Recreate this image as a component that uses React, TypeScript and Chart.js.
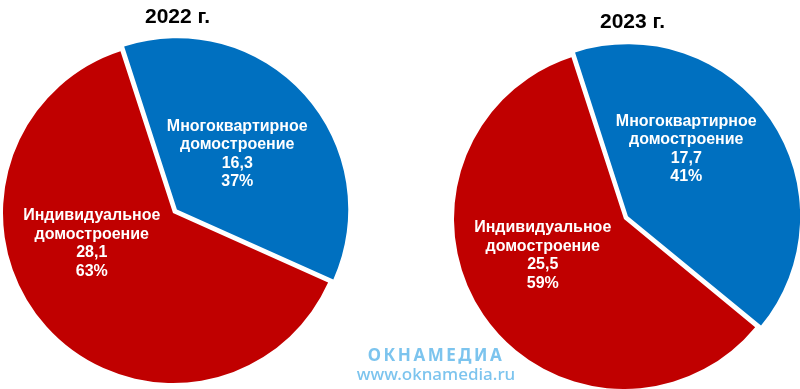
import React, { useEffect, useRef } from "react";
import { Chart, registerables } from "chart.js";

Chart.register(...registerables);

// ---- data ----
const categories = ["Многоквартирное домостроение", "Индивидуальное домостроение"];
const years = ["2022 г.", "2023 г."];
const values2022 = [16.3, 28.1];
const values2023 = [17.7, 25.5];
const sliceColors = ["#0070C0", "#C00000"];
const watermarkLogo = "ОКНАМЕДИА";
const watermarkUrl = "www.oknamedia.ru";

const fmt = (v: number) => v.toFixed(1).replace(".", ",");

const pieLabels = {
  id: "pieLabels",
  afterDatasetsDraw(chart: any, _args: any, opts: any) {
    const ctx = chart.ctx;
    const meta = chart.getDatasetMeta(0);
    const data = chart.data.datasets[0].data as number[];
    const total = data.reduce((a, b) => a + b, 0);
    ctx.save();
    ctx.font = opts.font;
    ctx.fillStyle = opts.color;
    ctx.textAlign = "center";
    ctx.textBaseline = "middle";
    meta.data.forEach((arc: any, i: number) => {
      const p = arc.getProps(["x", "y", "startAngle", "endAngle", "outerRadius"], true);
      const mid = (p.startAngle + p.endAngle) / 2;
      const [dx, dy] = opts.shifts[i];
      const cx = p.x + Math.cos(mid) * p.outerRadius * 0.5 + dx;
      const cy = p.y + Math.sin(mid) * p.outerRadius * 0.5 + dy;
      const words = String(chart.data.labels[i]).split(" ");
      const lines = [...words, fmt(data[i]), Math.round((data[i] / total) * 100) + "%"];
      lines.forEach((t: string, k: number) => {
        ctx.fillText(t, cx, cy + (k - (lines.length - 1) / 2) * opts.lineHeight);
      });
    });
    ctx.restore();
  },
};

const yearTitle = {
  id: "yearTitle",
  afterDraw(chart: any, _args: any, opts: any) {
    const { ctx, chartArea } = chart;
    ctx.save();
    ctx.font = opts.font;
    ctx.fillStyle = opts.color;
    ctx.textAlign = "center";
    ctx.textBaseline = "middle";
    ctx.fillText(opts.text, (chartArea.left + chartArea.right) / 2 + opts.dx, opts.y);
    ctx.restore();
  },
};

type PieProps = {
  values: number[];
  title: string;
  left: number;
  width: number;
  padTop: number;
  padBottom: number;
  padRight: number;
  offset: number;
  titleDx: number;
  titleY: number;
  shifts: number[][];
};

function YearPie(props: PieProps) {
  const ref = useRef<HTMLCanvasElement | null>(null);
  useEffect(() => {
    if (!ref.current) return;
    const chart = new Chart(ref.current, {
      type: "pie",
      data: {
        labels: categories,
        datasets: [
          {
            data: props.values,
            backgroundColor: sliceColors,
            borderWidth: 0,
            offset: [props.offset, 0],
          },
        ],
      },
      options: {
        responsive: false,
        animation: false,
        rotation: -18,
        radius: 170,
        layout: {
          padding: { top: props.padTop, bottom: props.padBottom, left: 0, right: props.padRight },
        },
        events: [],
        plugins: {
          legend: { display: false },
          tooltip: { enabled: false },
          title: { display: false },
          pieLabels: {
            font: "bold 16px 'Liberation Sans', Arial, sans-serif",
            color: "#ffffff",
            lineHeight: 18.5,
            shifts: props.shifts,
          },
          yearTitle: {
            text: props.title,
            font: "bold 21px 'Liberation Sans', Arial, sans-serif",
            color: "#000000",
            dx: props.titleDx,
            y: props.titleY,
          },
        } as any,
      },
      plugins: [pieLabels, yearTitle],
    } as any);
    return () => chart.destroy();
  }, []);
  return (
    <canvas
      ref={ref}
      width={props.width}
      height={389}
      style={{ position: "absolute", left: props.left, top: 0, width: props.width, height: 389 }}
    />
  );
}

export default function App() {
  return (
    <div
      style={{
        position: "fixed",
        left: 0,
        top: 0,
        width: 800,
        height: 389,
        background: "#ffffff",
        overflow: "hidden",
      }}
    >
      <YearPie
        values={values2022}
        title={years[0]}
        left={0}
        width={362}
        padTop={43}
        padBottom={6}
        padRight={16}
        offset={21}
        titleDx={4.5}
        titleY={17}
        shifts={[
          [1, -2],
          [-18, -26],
        ]}
      />
      <YearPie
        values={values2023}
        title={years[1]}
        left={448}
        width={352}
        padTop={49}
        padBottom={0}
        padRight={0}
        offset={19}
        titleDx={8.5}
        titleY={22}
        shifts={[
          [-8, -22],
          [-11, -11],
        ]}
      />
      <div
        style={{
          position: "absolute",
          left: 336,
          top: 345,
          width: 200,
          textAlign: "center",
          color: "#7cc4ee",
          fontFamily: "'Noto Sans', 'DejaVu Sans', sans-serif",
        }}
      >
        <div style={{ fontSize: 17, fontWeight: 700, letterSpacing: 2.5, lineHeight: "19px" }}>{watermarkLogo}</div>
        <div style={{ fontSize: 17, fontWeight: 500, lineHeight: "19px" }}>{watermarkUrl}</div>
      </div>
    </div>
  );
}
